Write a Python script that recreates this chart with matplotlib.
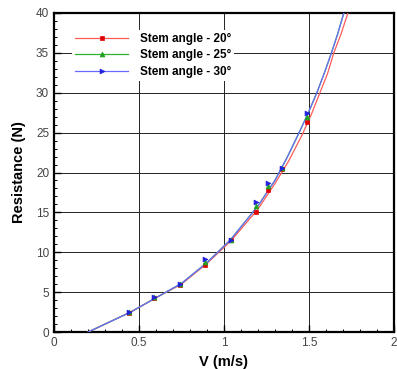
import matplotlib
matplotlib.use("Agg")
from matplotlib import pyplot as plt
from matplotlib.ticker import MultipleLocator

# measured points
v_pts = [0.44, 0.59, 0.74, 0.89, 1.04, 1.19, 1.26, 1.34, 1.49]
r_20 = [2.4, 4.3, 5.9, 8.4, 11.5, 15.1, 17.8, 20.5, 26.3]
r_25 = [2.5, 4.35, 6.0, 8.8, 11.5, 15.8, 18.3, 20.6, 27.0]
r_30 = [2.5, 4.4, 6.0, 9.1, 11.6, 16.3, 18.7, 20.6, 27.5]

# fitted curves
v_fit_20 = [0.2, 0.3, 0.45, 0.6, 0.75, 0.9, 1.04, 1.2, 1.3, 1.38, 1.46, 1.515, 1.565, 1.61, 1.647, 1.69, 1.73, 1.75]
r_fit_20 = [0.0, 1.0, 2.5, 4.3, 6.0, 8.6, 11.4, 15.4, 18.6, 21.4, 24.7, 27.3, 30.0, 32.4, 35.0, 37.4, 40.0, 41.5]
v_fit_25 = [0.2, 0.3, 0.45, 0.6, 0.75, 0.9, 1.04, 1.2, 1.3, 1.37, 1.436, 1.495, 1.547, 1.59, 1.633, 1.67, 1.706, 1.73]
r_fit_25 = [0.0, 1.0, 2.5, 4.3, 6.1, 8.7, 11.6, 15.8, 19.0, 21.8, 24.7, 27.4, 30.0, 32.4, 35.0, 37.4, 40.0, 41.5]
v_fit_30 = v_fit_25
r_fit_30 = r_fit_25

labels = ["Stem angle - 20°", "Stem angle - 25°", "Stem angle - 30°"]

fig = plt.figure(figsize=(3.97, 3.69), dpi=100)
ax = fig.add_axes([0.136, 0.100, 0.856, 0.865])

ax.plot(v_fit_20, r_fit_20, color="#ff5a5a", lw=0.9, zorder=3)
ax.plot(v_fit_25, r_fit_25, color="#30b030", lw=0.9, zorder=3)
ax.plot(v_fit_30, r_fit_30, color="#6a6aff", lw=0.9, zorder=3)
ax.plot(v_pts, r_20, "s", color="#e00000", ms=3.3, mew=0.5, zorder=4)
ax.plot(v_pts, r_25, "^", color="#20a020", ms=3.5, mew=0.5, zorder=4)
ax.plot(v_pts, r_30, ">", color="#2020e0", ms=3.5, mew=0.5, zorder=5)

# legend proxies: line with marker in the middle
h1, = ax.plot([], [], color="#ff5a5a", lw=0.9, marker="s", mfc="#e00000", mec="#e00000", ms=3.3, mew=0.5)
h2, = ax.plot([], [], color="#30b030", lw=0.9, marker="^", mfc="#20a020", mec="#20a020", ms=3.5, mew=0.5)
h3, = ax.plot([], [], color="#6a6aff", lw=0.9, marker=">", mfc="#2020e0", mec="#2020e0", ms=3.5, mew=0.5)
leg = ax.legend([h1, h2, h3], labels, loc="upper left", bbox_to_anchor=(0.035, 0.966),
                frameon=True, framealpha=1, edgecolor="white", fancybox=False,
                prop={"family": "Liberation Sans", "weight": "bold", "size": 8.5},
                handlelength=4.5, labelspacing=0.36, borderpad=0.3, handletextpad=0.95, markerfirst=True)
leg.get_frame().set_linewidth(0)
leg.set_zorder(6)

ax.set_xlim(0, 2)
ax.set_ylim(0, 40)
ax.xaxis.set_major_locator(MultipleLocator(0.5))
ax.xaxis.set_minor_locator(MultipleLocator(0.1))
ax.yaxis.set_major_locator(MultipleLocator(5))
ax.yaxis.set_minor_locator(MultipleLocator(1))
ax.set_xticks([0, 0.5, 1, 1.5, 2])
ax.set_xticklabels(["0", "0.5", "1", "1.5", "2"])
ax.tick_params(which="both", direction="in", top=False, right=False,
               labelsize=8.5, labelcolor="#444444", width=1.0)
ax.tick_params(which="major", length=5)
ax.tick_params(which="minor", length=2.5, width=0.7)
for lab in ax.get_xticklabels() + ax.get_yticklabels():
    lab.set_family("Liberation Sans")

ax.grid(True, which="major", color="#222222", lw=0.7)
for s in ax.spines.values():
    s.set_linewidth(1.6)

ax.set_xlabel("V (m/s)", family="Liberation Sans", weight="bold", fontsize=10.5, labelpad=4)
ax.set_ylabel("Resistance (N)", family="Liberation Sans", weight="bold", fontsize=10.5, labelpad=7)

fig.savefig("out.png", dpi=100)
